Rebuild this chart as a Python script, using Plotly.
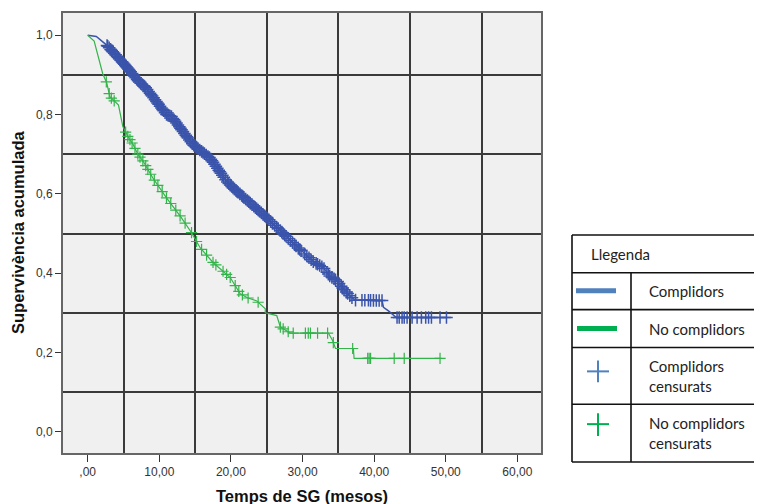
import numpy as np
import plotly.graph_objects as go

# ---- data ----
blue_t = [0, 1.2, 2.65, 5.0, 7.3, 8.0, 11.0, 11.7, 14.7, 16.4, 17.1, 19.4, 20.3, 25.0, 29.7,
          31.5, 32.9, 33.8, 34.8, 35.7, 36.6, 37.3, 41.1, 41.3, 42.0, 42.9, 43.1, 50.7]
blue_s = [1.0, 0.997, 0.975, 0.929, 0.88, 0.87, 0.80, 0.795, 0.724, 0.70, 0.69, 0.632, 0.615, 0.54, 0.458,
          0.429, 0.414, 0.393, 0.381, 0.36, 0.343, 0.332, 0.331, 0.314, 0.305, 0.293, 0.288, 0.288]

green_t = [0, 0.9, 2.1, 2.65, 3.1, 4.3, 4.9, 5.6, 6.35, 7.0, 7.75, 9.1, 11.0, 13.0, 14.5, 15.7, 17.5,
           19.9, 21.3, 22.3, 23.6, 24.8, 24.8, 26.4, 26.9, 28.3, 33.6, 34.2, 34.6, 37.1, 37.2, 49.4]
green_s = [1.0, 0.985, 0.903, 0.88, 0.845, 0.824, 0.77, 0.745, 0.724, 0.70, 0.682, 0.64, 0.59, 0.542,
           0.502, 0.464, 0.427, 0.389, 0.348, 0.338, 0.33, 0.31, 0.30, 0.293, 0.264, 0.249, 0.249, 0.23,
           0.21, 0.21, 0.185, 0.185]

blue_cens = [2.7, 2.8, 3.0, 3.2, 3.35, 3.5, 3.7, 3.9, 4.1, 4.25, 4.4, 4.6, 4.8, 4.95, 5.1, 5.25, 5.4,
             5.55, 5.7, 5.85, 6.0, 6.2, 6.35, 6.5, 6.7, 6.9, 7.05, 7.2, 7.4, 7.6, 7.8, 7.95, 8.1, 8.3,
             8.5, 8.7, 8.85, 9.0, 9.2, 9.4, 9.6, 9.75, 9.9, 10.1, 10.3, 10.45, 10.6, 10.8, 11.0, 11.2,
             11.35, 11.5, 11.7, 11.9, 12.05, 12.2, 12.4, 12.6, 12.8, 12.95, 13.1, 13.3, 13.5, 13.7,
             13.85, 14.0, 14.2, 14.4, 14.6, 14.8, 14.95, 15.1, 15.25, 15.4, 15.65, 15.9, 16.1, 16.3,
             16.55, 16.8, 17.0, 17.2, 17.35, 17.5, 17.7, 17.9, 18.1, 18.3, 18.45, 18.6, 18.8, 19.0,
             19.25, 19.5, 19.7, 19.9, 20.1, 20.3, 20.5, 20.7, 20.85, 21.0, 21.25, 21.5, 21.65, 21.8,
             22.05, 22.3, 22.5, 22.7, 22.95, 23.2, 23.4, 23.6, 23.8, 24.0, 24.25, 24.5, 24.7, 24.9,
             25.1, 25.3, 25.55, 25.8, 26.1, 26.4, 26.6, 26.9, 27.1, 27.3, 27.5, 27.7, 28.0, 28.3,
             28.6, 28.9, 29.1, 29.4, 29.6, 29.8, 30.3, 30.6, 30.9, 31.2, 31.5, 31.9, 32.1, 32.4, 32.7,
             33.0, 33.4, 33.6, 33.8, 34.1, 34.4, 34.6, 34.9, 35.1, 35.4, 35.6, 35.8, 36.1, 36.3, 36.6,
             36.9, 37.4,
             38.3, 38.7, 39.2, 39.5, 39.9, 40.3, 40.7, 41.1, 43.2, 43.5, 43.9, 44.2, 44.6, 45.3, 46.0,
             46.6, 47.2, 47.6, 48.0, 49.2, 50.1]

green_cens = [2.6, 3.0, 3.3, 3.7, 5.3, 5.6, 5.9, 6.2, 6.6, 7.0, 7.3, 7.7, 8.1, 8.4, 8.8, 9.3, 9.8,
              10.4, 11.0, 11.6, 12.3, 12.9, 13.6, 14.5, 15.2, 15.9, 16.6, 17.5, 17.9, 18.9, 19.4,
              19.9, 20.6, 21.1, 21.6, 22.4, 23.8, 26.9, 27.3, 28.0, 28.7, 30.4, 30.8, 31.1, 32.1,
              33.5, 34.3, 37.0, 39.1, 39.3, 39.5, 42.8, 44.2, 49.2]

x_ticks = [0, 10, 20, 30, 40, 50, 60]
x_ticktext = [",00", "10,00", "20,00", "30,00", "40,00", "50,00", "60,00"]
y_ticks = [0.0, 0.2, 0.4, 0.6, 0.8, 1.0]
y_ticktext = ["0,0", "0,2", "0,4", "0,6", "0,8", "1,0"]
x_grid = [5, 15, 25, 35, 45, 55]
y_grid = [0.1, 0.3, 0.5, 0.7, 0.9]

legend_title = "Llegenda"
legend_labels = ["Complidors", "No complidors", "Complidors<br>censurats", "No complidors<br>censurats"]

BLUE = "#3a54ab"
GREEN = "#33b44a"
LEG_BLUE = "#4f81bd"
LEG_GREEN = "#00b050"

# ---- figure geometry (reference pixels; page body has an 8px margin) ----
OFF = 8
W, H = 762 - OFF, 504 - OFF
L, R, T, B = 63, 541, 11, 453   # plot area in reference pixels


def px_x(px):
    return (px - L) / (R - L)


def px_y(py):
    return (B - py) / (B - T)


fig = go.Figure()

fig.add_trace(go.Scatter(x=blue_t, y=blue_s, mode="lines",
                         line=dict(color=BLUE, width=1.5), hoverinfo="skip"))
fig.add_trace(go.Scatter(x=green_t, y=green_s, mode="lines",
                         line=dict(color=GREEN, width=1.2), hoverinfo="skip"))

bc = np.array(blue_cens)
gc = np.array(green_cens)
fig.add_trace(go.Scatter(x=bc, y=np.interp(bc, blue_t, blue_s), mode="markers",
                         marker=dict(symbol="cross-thin", size=9,
                                     line=dict(color=BLUE, width=1.5)),
                         hoverinfo="skip"))
fig.add_trace(go.Scatter(x=gc, y=np.interp(gc, green_t, green_s), mode="markers",
                         marker=dict(symbol="cross-thin", size=8,
                                     line=dict(color=GREEN, width=1.2)),
                         hoverinfo="skip"))

tick_font = dict(family="Liberation Sans, Arial, sans-serif", size=12, color="#333333")

fig.update_xaxes(range=[-3.45, 63.3], tickmode="array", tickvals=x_ticks, ticktext=x_ticktext,
                 showgrid=False, zeroline=False, showline=True, mirror=True,
                 linecolor="#666666", linewidth=2, ticks="outside", ticklen=7,
                 tickcolor="#333333", tickwidth=1.2, tickfont=tick_font,
                 minor=dict(tickmode="array", tickvals=x_grid, showgrid=True,
                            gridcolor="#3a3a3a", gridwidth=1.5, ticks=""))
fig.update_yaxes(range=[-0.0535, 1.056], tickmode="array", tickvals=y_ticks, ticktext=y_ticktext,
                 showgrid=False, zeroline=False, showline=True, mirror=True,
                 linecolor="#666666", linewidth=2, ticks="outside", ticklen=6,
                 tickcolor="#333333", tickwidth=1.2, tickfont=tick_font,
                 minor=dict(tickmode="array", tickvals=y_grid, showgrid=True,
                            gridcolor="#3a3a3a", gridwidth=1.5, ticks=""))

title_font = dict(family="Liberation Sans, Arial, sans-serif", size=16.5, color="#111111")
annotations = [
    dict(text="<b>Temps de SG (mesos)</b>", xref="paper", yref="paper",
         x=0.5, y=px_y(496), xanchor="center", yanchor="middle", showarrow=False, font=title_font),
    dict(text="<b>Supervivència acumulada</b>", xref="paper", yref="paper",
         x=px_x(18), y=px_y(232), xanchor="center", yanchor="middle", textangle=-90,
         showarrow=False, font=title_font),
]

# ---- custom legend table ----
leg_font = dict(family="Lato, Open Sans, sans-serif", size=15, color="#222222")
shapes = []


def hline(x0, x1, y, color="#111111", w=1.6):
    shapes.append(dict(type="line", xref="paper", yref="paper", x0=px_x(x0), x1=px_x(x1),
                       y0=px_y(y), y1=px_y(y), line=dict(color=color, width=w)))


def vline(x, y0, y1, color="#111111", w=1.6):
    shapes.append(dict(type="line", xref="paper", yref="paper", x0=px_x(x), x1=px_x(x),
                       y0=px_y(y0), y1=px_y(y1), line=dict(color=color, width=w)))


TL, TR, TT, TB = 572, 761, 234, 462
for yy in [TT, 272, 309, 347, 404, TB]:
    hline(TL, TR, yy)
vline(TL, TT, TB)
vline(TR, TT, TB)
vline(631, 272, TB)

# legend symbols
hline(576, 616, 290, LEG_BLUE, 5)
hline(577, 617, 328, LEG_GREEN, 5)
hline(587, 609, 371, LEG_BLUE, 2)
vline(598, 360, 382, LEG_BLUE, 2)
hline(587, 609, 424, LEG_GREEN, 2)
vline(598, 413, 436, LEG_GREEN, 2)

annotations.append(dict(text=legend_title, xref="paper", yref="paper", x=px_x(589), y=px_y(253),
                        xanchor="left", yanchor="middle", showarrow=False, font=leg_font))
for lab, yy in zip(legend_labels, [290, 328, 375.5, 433]):
    annotations.append(dict(text=lab, xref="paper", yref="paper", x=px_x(647), y=px_y(yy),
                            xanchor="left", yanchor="middle", align="left", showarrow=False,
                            font=leg_font))

fig.update_layout(width=W, height=H,
                  margin=dict(l=L - OFF, r=W - (R - OFF), t=T - OFF, b=H - (B - OFF)),
                  plot_bgcolor="#f0f0f0", paper_bgcolor="white", showlegend=False,
                  annotations=annotations, shapes=shapes)

fig.write_html("out.html")
